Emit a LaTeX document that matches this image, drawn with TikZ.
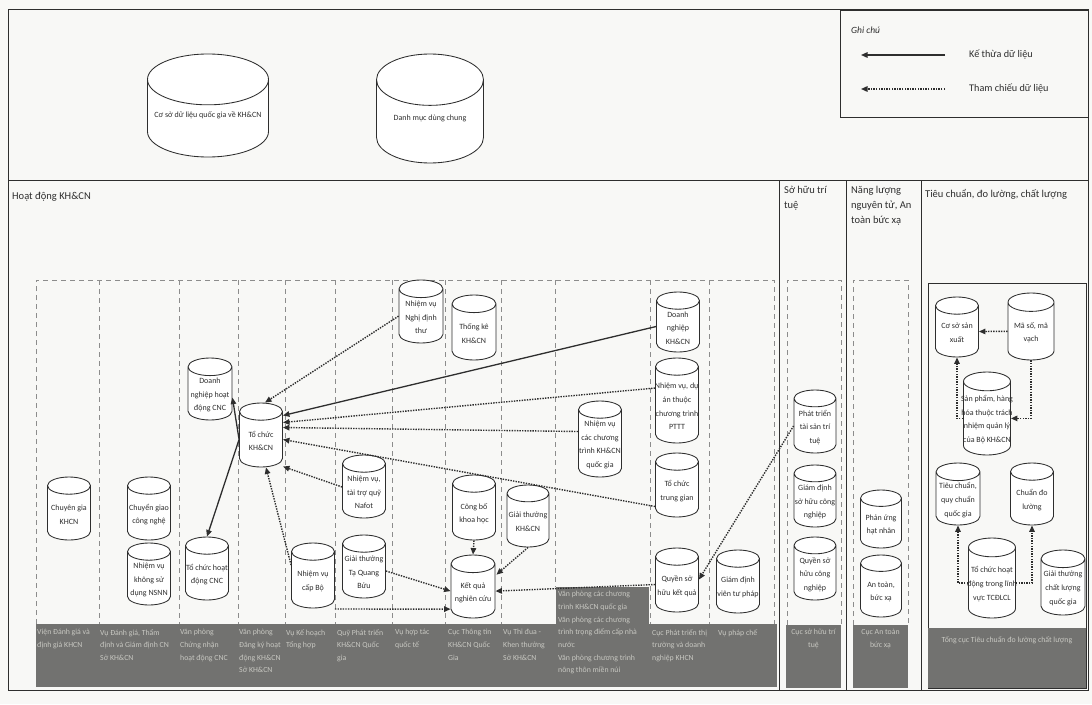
\documentclass[tikz,border=0pt]{standalone}
\usepackage{fontspec}
\setmainfont{Carlito}
\usetikzlibrary{shapes.geometric,arrows.meta,calc}
\definecolor{paper}{HTML}{F8F8F6}
\definecolor{ink}{HTML}{2E2E2E}
\definecolor{band}{HTML}{727270}
\definecolor{bandtext}{HTML}{C8C8C2}
\definecolor{guide}{HTML}{8C8C8C}
% database cylinder with its caption set a little below the shape centre;
% a flat rule of the cylinder's width keeps the end ellipses in proportion
% #1 extra options, #2 name, #3 x, #4 y, #5 width, #6 height, #7 caption
\newcommand\dbnode[7][]{%
  \node[db, minimum width=#5pt, minimum height=#6pt, #1] (#2) at (#3,#4) {\rule{#5pt}{0pt}};
  \node[dbtext] (#2t) at ($(#2.shape center)+(0,6)$) {#7};}
\begin{document}
\begin{tikzpicture}[x=1pt,y=-1pt,
  db/.style={cylinder, shape border rotate=90, aspect=0.4, draw=ink, line width=0.85pt,
    fill=white, inner sep=0pt, anchor=shape center},
  dbtext/.style={inner sep=0pt, align=center, text=ink, font=\fontsize{8}{13.6}\selectfont},
  frame/.style={draw=ink, line width=0.9pt},
  guide/.style={draw=guide, line width=0.7pt, dash pattern=on 5pt off 4pt},
  inherit/.style={draw=ink, line width=1.3pt, -{Triangle[length=6.5pt,width=5.5pt]}},
  refer/.style={draw=ink, line width=1.4pt, dash pattern=on 1.4pt off 1.2pt,
    -{Triangle[length=6.5pt,width=5.5pt]}},
  hdr/.style={inner sep=0pt, align=left, font=\fontsize{10.5}{15}\selectfont, text=ink},
  unit/.style={inner sep=0pt, align=left, anchor=north west, text=bandtext,
    font=\fontsize{7.8}{12.7}\selectfont},
  legtext/.style={inner sep=0pt, anchor=west, text=ink, font=\fontsize{10.2}{12}\selectfont}]

% canvas
\useasboundingbox (0,0) rectangle (1092,704);
\fill[paper] (0,0) rectangle (1092,704);

% outer frames and section borders
\draw[frame] (8,9) rectangle (1088,690);
\draw[frame] (8,180) -- (1088,180);
\draw[frame] (779,180) -- (779,690);
\draw[frame] (846,180) -- (846,690);
\draw[frame] (921,180) -- (921,690);
\draw[frame] (840,10) rectangle (1088,117);

% legend
\node[inner sep=0pt, anchor=west, text=ink, font=\itshape\fontsize{9.5}{11}\selectfont] (legtitle) at (851,30) {Ghi chú};
\coordinate (l1a) at (945,55);
\coordinate (l1b) at (861,55);
\coordinate (l2a) at (945,89);
\coordinate (l2b) at (861,89);
\draw[inherit] (l1a) -- (l1b);
\draw[refer] (l2a) -- (l2b);
\node[legtext] (leg1) at (969,55) {Kế thừa dữ liệu};
\node[legtext] (leg2) at (969,89) {Tham chiếu dữ liệu};

% shared databases
\dbnode[aspect=0.42]{csdl}{208}{105.5}{121}{103}{}
\node[dbtext, font=\fontsize{8}{10}\selectfont] (csdlc) at ($(csdl.shape center)+(0,10)$) {Cơ sở dữ liệu quốc gia về KH\&CN};
\dbnode[aspect=0.48]{dmdc}{430}{108.5}{107}{109}{}
\node[dbtext, font=\fontsize{8}{10}\selectfont] (dmdcc) at ($(dmdc.shape center)+(0,10)$) {Danh mục dùng chung};

% section headers
\node[hdr, anchor=west] (hhd) at (12,197) {Hoạt động KH\&CN};
\node[hdr, anchor=north west] (hsh) at (784,186) {Sở hữu trí\\tuệ};
\node[hdr, anchor=north west] (hnl) at (851,186) {Năng lượng\\nguyên tử, An\\toàn bức xạ};
\node[hdr, anchor=north west] (htc) at (925,189) {Tiêu chuẩn, đo lường, chất lượng};

% dashed unit columns
\draw[guide] (36,624) -- (36,280) -- (774,280) -- (774,624);
\foreach \x in {99,179,238,285,335,392,445,501,650,709}
  \draw[guide] (\x,280) -- (\x,624);
\draw[guide] (555,280) -- (555,587);
\draw[guide] (787,625) -- (787,280) -- (841,280) -- (841,625);
\draw[guide] (853,625) -- (853,280) -- (908,280) -- (908,625);
\draw[draw=ink, line width=0.8pt] (928,283) rectangle (1086,688);

% grey unit bands
\fill[band] (36,624) rectangle (777,687);
\fill[band] (556,587) rectangle (649,624);
\fill[band] (786,625) rectangle (841,688);
\fill[band] (853,625) rectangle (908,688);
\fill[band] (928,628) rectangle (1086,688);

% unit names
\node[unit] (u1) at (37,629) {Viện Đánh giá và\\định giá KHCN};
\node[unit] (u2) at (100,629) {Vụ Đánh giá, Thẩm\\định và Giám định CN\\Sở KH\&CN};
\node[unit] (u3) at (180,629) {Văn phòng\\Chứng nhận\\hoạt động CNC};
\node[unit] (u4) at (239,629) {Văn phòng\\Đăng ký hoạt\\động KH\&CN\\Sở KH\&CN};
\node[unit] (u5) at (286,629) {Vụ Kế hoạch\\Tổng hợp};
\node[unit] (u6) at (337,629) {Quỹ Phát triển\\KH\&CN Quốc\\gia};
\node[unit] (u7) at (395,629) {Vụ hợp tác\\quốc tế};
\node[unit] (u8) at (448,629) {Cục Thông tin\\KH\&CN Quốc\\Gia};
\node[unit] (u9) at (503,629) {Vụ Thi đua -\\Khen thưởng\\Sở KH\&CN};
\node[unit] (u10) at (558,591) {Văn phòng các chương\\trình KH\&CN quốc gia\\Văn phòng các chương\\trình trọng điểm cấp nhà\\nước\\Văn phòng chương trình\\nông thôn miền núi};
\node[unit] (u11) at (652,629) {Cục Phát triển thị\\trường và doanh\\nghiệp KHCN};
\node[unit] (u12) at (718,629) {Vụ pháp chế};
\node[unit, anchor=north, align=center] (u13) at (813.5,629) {Cục sở hữu trí\\tuệ};
\node[unit, anchor=north, align=center] (u14) at (880.5,629) {Cục An toàn\\bức xạ};
\node[unit, anchor=north, align=center] (u15) at (1007,636) {Tổng cục Tiêu chuẩn đo lường chất lượng};

% databases: science and technology activities
\dbnode{cg}{69}{508.5}{43}{63}{Chuyên gia\\KHCN}
\dbnode{cgcn}{149}{508.5}{43}{63}{Chuyển giao\\công nghệ}
\dbnode{nvns}{149}{574}{43}{62}{Nhiệm vụ\\không sử\\dụng NSNN}
\dbnode{dncnc}{210}{389}{44}{62}{Doanh\\nghiệp hoạt\\động CNC}
\dbnode{tccnc}{207}{568.5}{43}{63}{Tổ chức hoạt\\động CNC}
\dbnode{tc}{261}{435}{43}{64}{Tổ chức\\KH\&CN}
\dbnode{capbo}{313}{575.5}{43}{65}{Nhiệm vụ\\cấp Bộ}
\dbnode{nafot}{364}{486.5}{43}{63}{Nhiệm vụ,\\tài trợ quỹ\\Nafot}
\dbnode{tqb}{364}{566.5}{43}{63}{Giải thưởng\\Tạ Quang\\Bửu}
\dbnode{ndt}{421}{311.5}{44}{63}{Nhiệm vụ\\Nghị định\\thư}
\dbnode{tk}{474}{327.5}{44}{65}{Thống kê\\KH\&CN}
\dbnode{cbkh}{474}{507.5}{43}{65}{Công bố\\khoa học}
\dbnode{gtkh}{528}{516}{42}{62}{Giải thưởng\\KH\&CN}
\dbnode{kqnc}{473}{586.5}{44}{63}{Kết quả\\nghiên cứu}
\dbnode{ctqg}{600}{439}{43}{76}{Nhiệm vụ\\các chương\\trình KH\&CN\\quốc gia}
\dbnode{dnkh}{678}{322}{43}{60}{Doanh\\nghiệp\\KH\&CN}
\dbnode{pttt}{677}{400.5}{43}{85}{Nhiệm vụ, dự\\án thuộc\\chương trình\\PTTT}
\dbnode{tcg}{677}{485}{43}{64}{Tổ chức\\trung gian}
\dbnode{qshkq}{677}{580}{43}{64}{Quyền sở\\hữu kết quả}
\dbnode{gdvtp}{738}{581.5}{43}{63}{Giám định\\viên tư pháp}

% databases: intellectual property
\dbnode{pttstt}{815}{421.5}{42}{63}{Phát triển\\tài sản trí\\tuệ}
\dbnode{gdshcn}{815}{496}{42}{62}{Giám định\\sở hữu công\\nghiệp}
\dbnode{qshcn}{815}{568.5}{42}{63}{Quyền sở\\hữu công\\nghiệp}

% databases: atomic energy and radiation safety
\dbnode{puhn}{881}{519}{41}{58}{Phản ứng\\hạt nhân}
\dbnode{atbx}{881}{586}{41}{62}{An toàn,\\bức xạ}

% databases: standards, metrology, quality
\dbnode{cssx}{957}{327}{43}{60}{Cơ sở sản\\xuất}
\dbnode{mhv}{1031}{326.5}{46}{67}{Mã số, mã\\vạch}
\dbnode{sp}{987}{413.5}{47}{83}{Sản phẩm, hàng\\hóa thuộc trách\\nhiệm quản lý\\của Bộ KH\&CN}
\dbnode{tcqc}{958}{494}{44}{62}{Tiêu chuẩn,\\quy chuẩn\\quốc gia}
\dbnode{cdl}{1032}{494}{43}{62}{Chuẩn đo\\lường}
\dbnode{tchd}{992}{578}{47}{80}{Tổ chức hoạt\\động trong lĩnh\\vực TCĐLCL}
\dbnode{gtcl}{1063}{582.5}{44}{65}{Giải thưởng\\chất lượng\\quốc gia}

% data links
\draw[inherit] (dnkh.west) -- ($(tc.east)+(0,-24)$);
\draw[refer] ($(pttt.west)+(0,-17)$) -- ($(tc.east)+(0,-17)$);
\draw[refer] ($(ctqg.west)+(0,-12)$) -- ($(tc.east)+(0,-12)$);
\draw[refer] ($(tcg.west)+(0,17)$) -- (tc.east);
\draw[refer] ($(nafot.west)+(0,-4)$) -- ($(tc.east)+(0,27)$);
\draw[refer] (ndt.west) -- ($(tc.north)+(4,0)$);
\draw[refer] ($(capbo.west)+(0,-15)$) -- ($(tc.south)+(5,0)$);
\draw[inherit] (tc.west) -- ($(dncnc.east)+(0,4)$);
\draw[inherit] (tc.west) -- (tccnc.north);
\draw[refer] ($(capbo.east)+(0,29)$) -- ($(kqnc.west)+(0,18)$);
\draw[refer] (tqb.east) -- (kqnc.west);
\draw[refer] (cbkh.south) -- (kqnc.north);
\draw[refer] (gtkh.south) -- ($(kqnc.north east)+(1,6)$);
\draw[refer] (qshkq.west) -- (kqnc.east);
\draw[refer] (pttstt.west) -- ($(qshkq.east)+(0,-5)$);
\draw[refer] (mhv.west) -- (cssx.east);
\draw[refer] (mhv.south) |- (sp.east);
\draw[refer] (sp.west) -| (cssx.south);
\draw[refer] (tchd.west) -| (tcqc.south);
\draw[refer] (tchd.east) -| (cdl.south);
\end{tikzpicture}
\end{document}
